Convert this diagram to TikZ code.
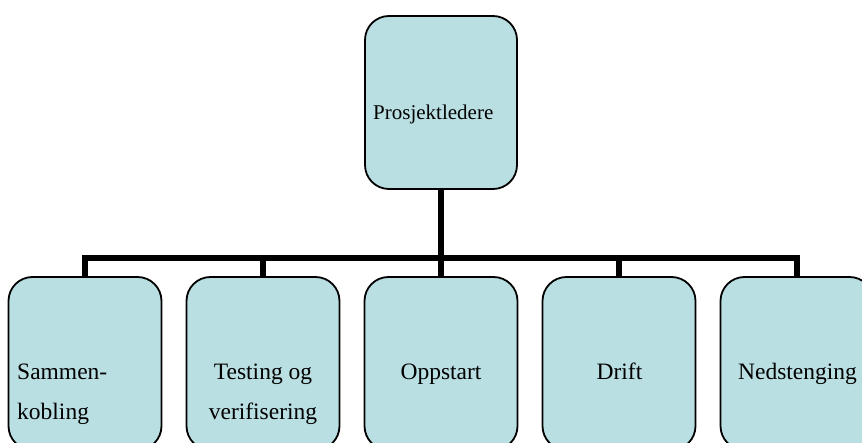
\documentclass[tikz,border=0pt]{standalone}
\usepackage{fontspec}
\setmainfont{Liberation Serif}
\definecolor{boxfill}{RGB}{185,223,227}
\tikzset{
  unit box/.style={draw=black, line width=1.8pt, fill=boxfill,
    rounded corners=24pt, minimum width=153pt, minimum height=173pt,
    inner sep=0pt, outer sep=0pt},
  connector/.style={draw=black, line width=6.5pt, line join=miter},
  toplabel/.style={inner sep=0pt, font=\fontsize{21}{25}\selectfont},
  unitlabel/.style={inner sep=0pt, font=\fontsize{23.5}{40}\selectfont}
}
\begin{document}
\begin{tikzpicture}[x=1pt, y=-1pt]
  \useasboundingbox (0,0) rectangle (862,443);
  \clip (0,0) rectangle (862,443);

  % boxes
  \node[unit box, minimum width=152pt] (top) at (441,102.5) {};
  \node[unit box] (u1) at (85,363.5) {};
  \node[unit box] (u2) at (263,363.5) {};
  \node[unit box] (u3) at (441,363.5) {};
  \node[unit box] (u4) at (619,363.5) {};
  \node[unit box] (u5) at (797,363.5) {};

  % connectors
  \coordinate (bar) at (441,258);
  \draw[connector] (top.south) -- (bar);
  \draw[connector] (u1.north) |- (bar) -| (u5.north);
  \draw[connector] (u2.north) -- (u2.north |- bar);
  \draw[connector] (u3.north) -- (bar);
  \draw[connector] (u4.north) -- (u4.north |- bar);

  % labels
  \node[toplabel, anchor=base west] (ltop) at (373,120) {Prosjektledere};
  \node[unitlabel, anchor=base west] (l1a) at (17,380) {Sammen-};
  \node[unitlabel, anchor=base west] (l1b) at (17,420) {kobling};
  \node[unitlabel, anchor=base] (l2a) at (263,380) {Testing og};
  \node[unitlabel, anchor=base] (l2b) at (263,420) {verifisering};
  \node[unitlabel, anchor=base] (l3) at (441,380) {Oppstart};
  \node[unitlabel, anchor=base] (l4) at (619.5,380) {Drift};
  \node[unitlabel, anchor=base] (l5) at (797.5,380) {Nedstenging};
\end{tikzpicture}
\end{document}
